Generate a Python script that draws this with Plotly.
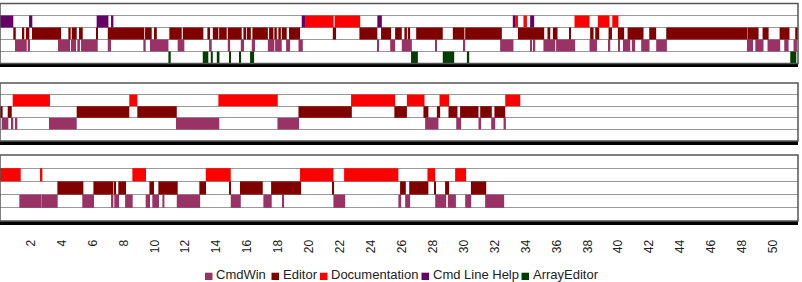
import plotly.graph_objects as go

# ---- data: (start, end) in minutes ----
series_names = ["CmdWin", "Editor", "Documentation", "Cmd Line Help", "ArrayEditor"]
series_lane = {"CmdWin": 1, "Editor": 2, "Documentation": 3, "Cmd Line Help": 3, "ArrayEditor": 0}
series_color = {"CmdWin": "#993366", "Editor": "#800000", "Documentation": "#ff0000",
                "Cmd Line Help": "#660066", "ArrayEditor": "#003f00"}

p1_cmdlinehelp = [(0.00, 0.86), (1.88, 2.09), (6.25, 7.01), (7.18, 7.33), (19.51, 19.77),
                  (24.40, 24.69), (33.16, 33.31), (34.28, 34.54)]
p1_documentation = [(19.77, 21.57), (21.64, 23.29), (33.31, 33.49), (33.85, 34.07),
                    (37.15, 38.12), (38.66, 39.41), (39.59, 39.99)]
p1_editor = [(0.86, 1.02), (1.47, 1.57), (1.68, 1.90), (2.07, 3.95), (4.42, 4.57), (4.64, 4.96),
             (5.11, 5.35), (6.25, 6.32), (6.97, 9.33), (9.38, 9.81), (9.96, 10.14), (10.95, 11.75),
             (11.82, 13.15), (13.41, 13.58), (13.76, 14.12), (14.17, 14.66), (14.73, 15.63),
             (15.74, 15.91), (15.96, 16.22), (16.32, 17.32), (17.40, 17.68), (17.74, 17.90),
             (18.00, 18.16), (18.22, 18.54), (18.69, 19.40), (21.52, 21.73), (23.24, 24.40),
             (24.64, 25.29), (25.55, 25.98), (26.15, 26.31), (26.37, 26.52), (26.91, 28.63),
             (29.28, 30.03), (30.08, 32.45), (33.49, 35.19), (35.40, 35.58), (35.75, 36.05),
             (36.82, 36.92), (38.16, 38.38), (38.49, 38.75), (39.35, 39.57), (39.95, 40.36),
             (40.58, 41.61), (41.98, 42.43), (43.08, 48.34), (48.36, 49.05), (49.31, 49.70),
             (50.41, 51.05), (51.42, 51.68)]
p1_cmdwin = [(0.97, 1.73), (1.79, 1.94), (3.77, 3.84), (3.88, 4.53), (4.59, 4.92), (5.00, 5.17),
             (5.24, 6.32), (6.97, 7.18), (9.27, 9.42), (9.70, 10.89), (11.49, 11.92), (13.52, 13.69),
             (14.73, 14.88), (15.57, 15.78), (16.28, 16.49), (17.32, 17.74), (17.79, 18.22),
             (18.50, 18.76), (19.30, 19.58), (24.43, 24.51), (25.23, 25.55), (25.98, 26.63),
             (28.14, 28.25), (29.97, 30.08), (32.34, 33.20), (34.30, 34.36), (34.50, 34.61),
             (35.14, 35.90), (35.96, 37.19), (38.12, 38.60), (39.35, 39.46), (39.99, 40.06),
             (40.28, 40.75), (40.86, 41.07), (41.46, 42.00), (42.43, 43.12), (48.30, 48.69),
             (48.84, 49.37), (49.63, 50.45), (50.71, 50.99), (51.31, 51.53)]
p1_arrayeditor = [(10.89, 11.04), (13.11, 13.47), (13.63, 13.76), (14.02, 14.19), (14.83, 14.94),
                  (15.48, 15.59), (16.17, 16.43), (26.58, 27.02), (28.63, 29.37), (30.19, 30.34),
                  (51.10, 51.49)]

p2_documentation = [(0.82, 3.23), (8.36, 8.88), (14.12, 17.96), (22.70, 25.55), (26.31, 27.45),
                    (28.42, 29.04), (32.67, 33.64)]
p2_editor = [(0.00, 0.17), (0.50, 0.76), (4.96, 8.36), (8.88, 11.43), (19.30, 22.75), (25.50, 26.31),
             (27.38, 27.70), (28.25, 28.46), (29.00, 29.58), (29.75, 30.94), (31.05, 31.80),
             (31.97, 32.67)]
p2_cmdwin = [(0.11, 0.54), (0.76, 0.86), (0.97, 1.12), (3.17, 4.96), (11.38, 14.18), (17.94, 19.34),
             (27.49, 28.35), (29.50, 29.82), (30.94, 31.11), (31.76, 32.02), (32.56, 32.71)]

p3_documentation = [(0.00, 1.34), (2.65, 2.74), (8.56, 9.44), (13.31, 14.92), (19.40, 21.56),
                    (22.25, 25.76), (27.64, 28.14), (29.43, 30.14)]
p3_editor = [(3.71, 5.39), (6.04, 7.33), (7.39, 7.50), (7.65, 8.15), (9.66, 9.96), (10.24, 11.49),
             (12.89, 13.32), (14.83, 14.94), (15.52, 16.99), (17.53, 19.47), (21.52, 21.60),
             (25.87, 26.24), (26.46, 27.70), (28.07, 28.18), (28.78, 29.04), (30.45, 31.44)]
p3_cmdwin = [(1.25, 2.65), (2.67, 3.73), (5.32, 6.08), (7.18, 7.33), (7.39, 7.70), (8.09, 8.58),
             (9.42, 9.70), (9.85, 10.28), (10.50, 10.63), (11.43, 12.94), (14.92, 15.57),
             (17.03, 17.57), (18.26, 18.37), (21.56, 22.32), (25.76, 25.94), (26.20, 26.52),
             (28.14, 28.85), (28.96, 29.48), (30.08, 30.47), (31.37, 32.60)]

tick_values = list(range(2, 51, 2))
x_range = [0, 51.6]

panels = [
    {"CmdWin": p1_cmdwin, "Editor": p1_editor, "Documentation": p1_documentation,
     "Cmd Line Help": p1_cmdlinehelp, "ArrayEditor": p1_arrayeditor},
    {"CmdWin": p2_cmdwin, "Editor": p2_editor, "Documentation": p2_documentation,
     "Cmd Line Help": [], "ArrayEditor": []},
    {"CmdWin": p3_cmdwin, "Editor": p3_editor, "Documentation": p3_documentation,
     "Cmd Line Help": [], "ArrayEditor": []},
]

# ---- layout geometry (pixels) ----
W, H = 802, 282
M_L, M_R, M_T, M_B = 0, 4, 3, 61
PLOT_W = W - M_L - M_R
PLOT_H = H - M_T - M_B
domains = [[0.7225, 0.998], [0.367, 0.633], [0.0, 0.3028]]

def px_x(px):
    return (px - M_L) / PLOT_W

def px_y(py):
    return (H - M_B - py) / PLOT_H

fig = go.Figure()
for i, panel in enumerate(panels):
    ax = "" if i == 0 else str(i + 1)
    for name in series_names:
        segs = panel[name]
        fig.add_trace(go.Bar(
            orientation="h",
            y=[series_lane[name]] * len(segs),
            base=[s for s, e in segs],
            x=[e - s for s, e in segs],
            width=1,
            name=name,
            legendgroup=name,
            showlegend=False,
            marker=dict(color=series_color[name], line=dict(width=0)),
            xaxis="x" + ax, yaxis="y" + ax,
        ))

layout = dict(
    width=W, height=H,
    margin=dict(l=M_L, r=M_R, t=M_T, b=M_B),
    paper_bgcolor="white", plot_bgcolor="white",
    barmode="overlay",
    showlegend=False,
    font=dict(family="Liberation Sans, Arial, sans-serif", size=12, color="#222"),
    shapes=[], annotations=[],
)
for i in range(3):
    ax = "" if i == 0 else str(i + 1)
    layout["xaxis" + ax] = dict(
        domain=[0, 1], range=x_range, anchor="y" + ax,
        showgrid=False, zeroline=False,
        showline=True, linecolor="black", linewidth=4,
        tickvals=tick_values, showticklabels=(i == 2), tickangle=-90,
        ticks="outside", ticklen=10, tickcolor="rgba(0,0,0,0)",
        tickfont=dict(size=12, color="#222"), fixedrange=True,
    )
    layout["yaxis" + ax] = dict(
        domain=domains[i], range=[-0.5, 4.5], anchor="x" + ax,
        tickvals=[0.5, 1.5, 2.5, 3.5], showticklabels=False,
        showgrid=True, gridcolor="#999999", gridwidth=1,
        zeroline=False, showline=False, fixedrange=True,
    )
    layout["shapes"].append(dict(
        type="rect", xref=("x" + ax) + " domain", yref=("y" + ax) + " domain",
        x0=0, x1=1, y0=0, y1=1, line=dict(color="#555555", width=1.5), layer="above"))

# ---- legend (compact, as in the reference) ----
legend_x = [205, 271.5, 320, 421.5, 521.5]
SQ = 7.5
legend_y_top, legend_y_bot = 272.7, 280.0
for name, x0 in zip(series_names, legend_x):
    layout["shapes"].append(dict(
        type="rect", xref="paper", yref="paper",
        x0=px_x(x0), x1=px_x(x0 + SQ), y0=px_y(legend_y_bot), y1=px_y(legend_y_top),
        fillcolor=series_color[name], line=dict(width=0)))
    layout["annotations"].append(dict(
        text=name, xref="paper", yref="paper", x=px_x(x0 + SQ + 2.5), y=px_y(274.8),
        xanchor="left", yanchor="middle", showarrow=False, borderpad=0,
        font=dict(size=13, color="#222")))

fig.update_layout(**layout)
fig.write_html("out.html")
